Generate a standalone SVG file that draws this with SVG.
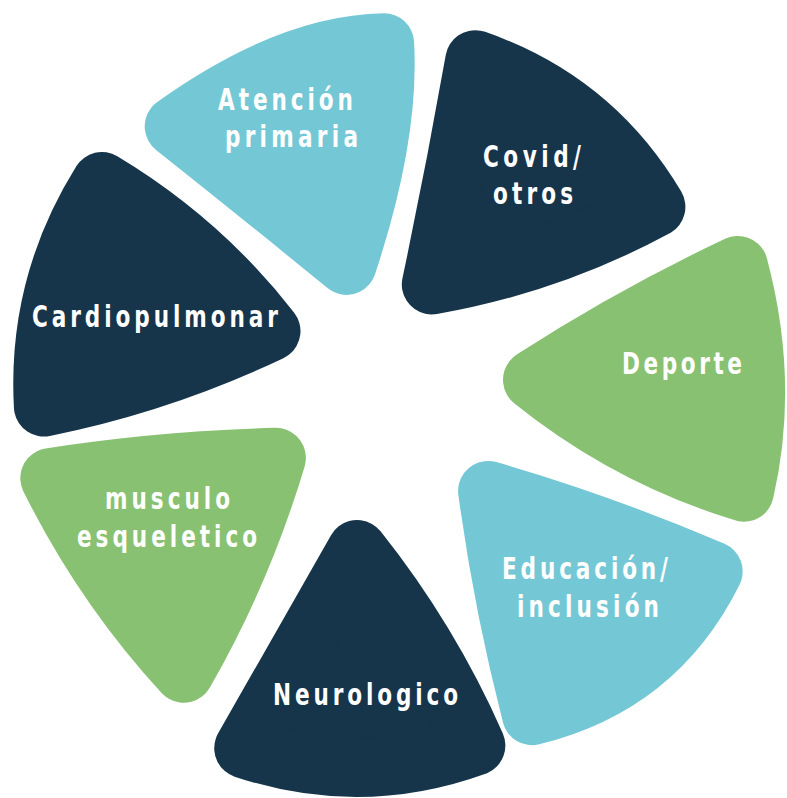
<svg xmlns="http://www.w3.org/2000/svg" width="787" height="798" viewBox="0 0 787 798">
<style>
.p{stroke-width:60;stroke-linejoin:round}
.navy{fill:#16354A;stroke:#16354A}
.blue{fill:#74C8D5;stroke:#74C8D5}
.green{fill:#89C172;stroke:#89C172}
.t{font-family:"DejaVu Sans Condensed","Liberation Sans",sans-serif;font-weight:bold;font-size:30px;fill:#FFFFFF}
</style>
<rect width="787" height="798" fill="#FFFFFF"/>
<g id="atencion">
<path class="p blue" d="M174.7,126.4 Q288.8,44.9 384.1,43.3 Q389.5,135.9 346.5,264.9 Q257,191.7 174.7,126.4 Z"/>
<text class="t" transform="translate(218,110) scale(0.8,1)" textLength="168.75" lengthAdjust="spacing">Atención</text>
<text class="t" transform="translate(225,147) scale(0.8,1)" textLength="166.25" lengthAdjust="spacing">primaria</text>
</g>
<g id="covid">
<path class="p navy" d="M475.3,60.2 Q592.6,101 655.4,206.9 Q550.8,263.5 431.8,284.5 Q455.4,173 475.3,60.2 Z"/>
<text class="t" transform="translate(483,167) scale(0.8,1)" textLength="122.5" lengthAdjust="spacing">Covid/</text>
<text class="t" transform="translate(493,204) scale(0.8,1)" textLength="100" lengthAdjust="spacing">otros</text>
</g>
<g id="deporte">
<path class="p green" d="M533,379.8 Q631.1,316.3 737.9,265.9 Q769.1,382.8 743.9,491.7 Q627.3,455.8 533,379.8 Z"/>
<text class="t" transform="translate(622,374) scale(0.8,1)" textLength="150" lengthAdjust="spacing">Deporte</text>
</g>
<g id="educacion">
<path class="p blue" d="M488.1,490.9 Q602.8,524.2 712.7,571.4 Q656.2,684.9 532.1,715.2 Q503.3,603.7 488.1,490.9 Z"/>
<text class="t" transform="translate(502,579) scale(0.8,1)" textLength="207.5" lengthAdjust="spacing">Educación/</text>
<text class="t" transform="translate(517,617) scale(0.8,1)" textLength="177.5" lengthAdjust="spacing">inclusión</text>
</g>
<g id="neurologico">
<path class="p navy" d="M357.1,550 Q428.9,640.2 475.4,745.5 Q360.2,787.1 244.2,748.2 Q300.7,649.3 357.1,550 Z"/>
<text class="t" transform="translate(273,705) scale(0.8,1)" textLength="231.25" lengthAdjust="spacing">Neurologico</text>
</g>
<g id="musculo">
<path class="p green" d="M50.3,478.1 Q154.9,461.4 275.9,457.8 Q242,571.3 183.7,672.8 Q103.4,585.3 50.3,478.1 Z"/>
<text class="t" transform="translate(105,509) scale(0.8,1)" textLength="156.25" lengthAdjust="spacing">musculo</text>
<text class="t" transform="translate(77,547) scale(0.8,1)" textLength="225" lengthAdjust="spacing">esqueletico</text>
</g>
<g id="cardiopulmonar">
<path class="p navy" d="M101.9,182 Q200.6,241.2 270.5,331.1 Q161.6,382.8 43.9,406.5 Q37.1,285.7 101.9,182 Z"/>
<text class="t" transform="translate(32,327) scale(0.8,1)" textLength="307.5" lengthAdjust="spacing">Cardiopulmonar</text>
</g>
<g id="connectors"></g>
</svg>
